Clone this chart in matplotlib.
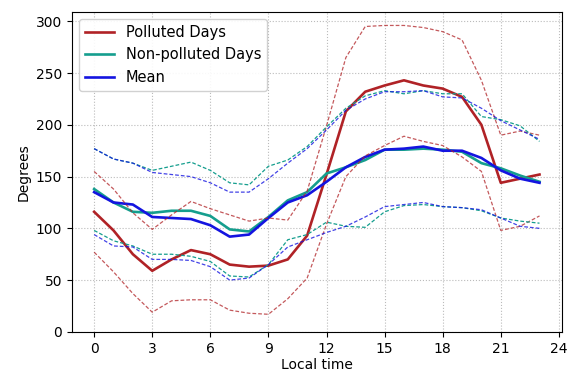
import matplotlib
matplotlib.use("Agg")
import matplotlib.pyplot as plt
import numpy as np

hours = list(range(24))

polluted = [116, 98, 75, 59, 70, 79, 75, 65, 63, 64, 70, 93, 152, 213, 232, 238, 243, 238, 235, 227, 200, 144, 148, 152]
polluted_up = [155, 138, 115, 99, 113, 126, 119, 113, 107, 110, 108, 136, 199, 265, 295, 296, 296, 294, 290, 282, 243, 190, 194, 190]
polluted_lo = [77, 58, 37, 19, 30, 31, 31, 21, 18, 17, 32, 52, 104, 150, 170, 180, 189, 184, 180, 169, 155, 98, 102, 112]

nonpolluted = [138, 125, 116, 115, 117, 117, 112, 99, 97, 111, 127, 135, 153, 159, 166, 176, 176, 177, 176, 174, 163, 158, 151, 145]
nonpolluted_up = [177, 167, 163, 156, 160, 164, 156, 144, 142, 160, 166, 179, 198, 216, 228, 233, 230, 233, 230, 230, 208, 205, 199, 184]
nonpolluted_lo = [98, 88, 83, 75, 75, 73, 68, 54, 53, 65, 89, 94, 106, 102, 101, 116, 122, 123, 121, 120, 117, 110, 107, 105]

mean = [135, 125, 123, 111, 110, 109, 103, 92, 94, 110, 125, 132, 145, 159, 169, 176, 177, 179, 175, 175, 168, 156, 148, 144]
mean_up = [177, 167, 163, 154, 152, 150, 144, 135, 135, 148, 163, 177, 195, 214, 225, 232, 232, 233, 227, 226, 216, 204, 195, 186]
mean_lo = [94, 83, 82, 70, 70, 69, 63, 50, 52, 65, 82, 89, 96, 102, 111, 121, 123, 125, 121, 120, 118, 110, 102, 100]

c_red = "#b02226"
c_teal = "#159e8e"
c_blue = "#1414e0"

fig = plt.figure(figsize=(5.75, 3.75), dpi=100)
ax = fig.add_axes([0.125, 0.115, 0.852, 0.853])

ax.plot(hours, polluted, color=c_red, lw=1.9, label="Polluted Days")
ax.plot(hours, nonpolluted, color=c_teal, lw=1.9, label="Non-polluted Days")
ax.plot(hours, mean, color=c_blue, lw=1.9, label="Mean")

dash = (0, (3, 1.6))
ax.plot(hours, polluted_up, color=c_red, lw=0.9, ls=dash, alpha=0.75)
ax.plot(hours, polluted_lo, color=c_red, lw=0.9, ls=dash, alpha=0.75)
ax.plot(hours, nonpolluted_up, color=c_teal, lw=0.9, ls=dash)
ax.plot(hours, nonpolluted_lo, color=c_teal, lw=0.9, ls=dash)
ax.plot(hours, mean_up, color=c_blue, lw=0.9, ls=dash, alpha=0.8)
ax.plot(hours, mean_lo, color=c_blue, lw=0.9, ls=dash, alpha=0.8)

ax.set_xlim(-1.15, 24.15)
ax.set_ylim(0, 309)
ax.set_xticks(range(0, 25, 3))
ax.set_yticks(range(0, 301, 50))
ax.tick_params(labelsize=10)
ax.grid(True, ls=":", color="#bbbbbb", lw=0.8)
ax.set_xlabel("Local time", fontsize=10, labelpad=2)
ax.set_ylabel("Degrees", fontsize=10)
ax.legend(loc="upper left", fontsize=10.5, framealpha=0.9, handlelength=2.0)

fig.savefig("out.png", dpi=100)
